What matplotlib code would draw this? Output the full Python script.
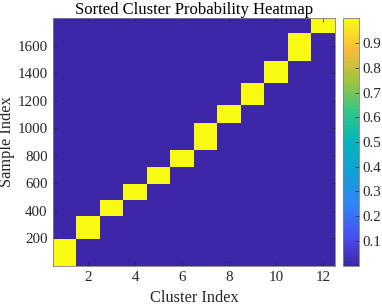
import numpy as np
import matplotlib
matplotlib.use('Agg')
import matplotlib.pyplot as plt
from matplotlib.colors import LinearSegmentedColormap

# cluster sizes (samples per cluster, sorted by cluster)
clusters = [1, 2, 3, 4, 5, 6, 7, 8, 9, 10, 11, 12]
cluster_sizes = [193, 169, 114, 119, 125, 124, 194, 129, 157, 162, 201, 111]
x_ticks = [2, 4, 6, 8, 10, 12]
y_ticks = [200, 400, 600, 800, 1000, 1200, 1400, 1600]
cbar_ticks = [0.1, 0.2, 0.3, 0.4, 0.5, 0.6, 0.7, 0.8, 0.9]

# probability matrix (one-hot per sample)
labels = np.repeat(np.arange(len(clusters)), cluster_sizes)
n = len(labels)
prob = np.zeros((n, len(clusters)))
prob[np.arange(n), labels] = 1.0

# parula-like colormap
parula = LinearSegmentedColormap.from_list('parula', [
    (0.000, (0.2422, 0.1504, 0.6603)),
    (0.125, (0.2810, 0.3228, 0.9579)),
    (0.250, (0.1786, 0.5289, 0.9682)),
    (0.375, (0.0689, 0.6279, 0.8350)),
    (0.500, (0.0166, 0.7099, 0.7388)),
    (0.625, (0.2000, 0.7800, 0.5300)),
    (0.750, (0.6300, 0.7700, 0.2300)),
    (0.875, (0.9900, 0.7300, 0.2400)),
    (1.000, (0.9769, 0.9839, 0.0805)),
])

plt.rcParams['font.family'] = ['Liberation Serif', 'DejaVu Serif']
fig = plt.figure(figsize=(3.82, 3.06), dpi=100)
ax = fig.add_axes([0.1395, 0.1317, 0.7374, 0.8085])
cax = fig.add_axes([0.8987, 0.1317, 0.0419, 0.8085])

im = ax.imshow(prob, cmap=parula, vmin=0, vmax=1, aspect='auto', origin='lower',
               extent=[0.5, len(clusters) + 0.5, 0.5, n + 0.5], interpolation='nearest')

edge = '#262626'
ax.set_xticks(x_ticks)
ax.set_yticks(y_ticks)
ax.tick_params(direction='in', length=3, width=0.5, top=True, right=True,
               labelsize=10.8, colors=edge, pad=4)
for s in ax.spines.values():
    s.set_color('#808080')
    s.set_linewidth(0.6)
ax.set_title('Sorted Cluster Probability Heatmap', fontsize=12, pad=3, color='black')
ax.set_xlabel('Cluster Index', fontsize=11.8, labelpad=4, color=edge)
ax.set_ylabel('Sample Index', fontsize=11.8, labelpad=2, color=edge)

cb = fig.colorbar(im, cax=cax)
cb.set_ticks(cbar_ticks)
cb.ax.tick_params(direction='in', length=3, width=0.5, labelsize=10.8, colors=edge, pad=2)
cb.outline.set_edgecolor('#808080')
cb.outline.set_linewidth(0.6)

fig.savefig('out.png', dpi=100)
